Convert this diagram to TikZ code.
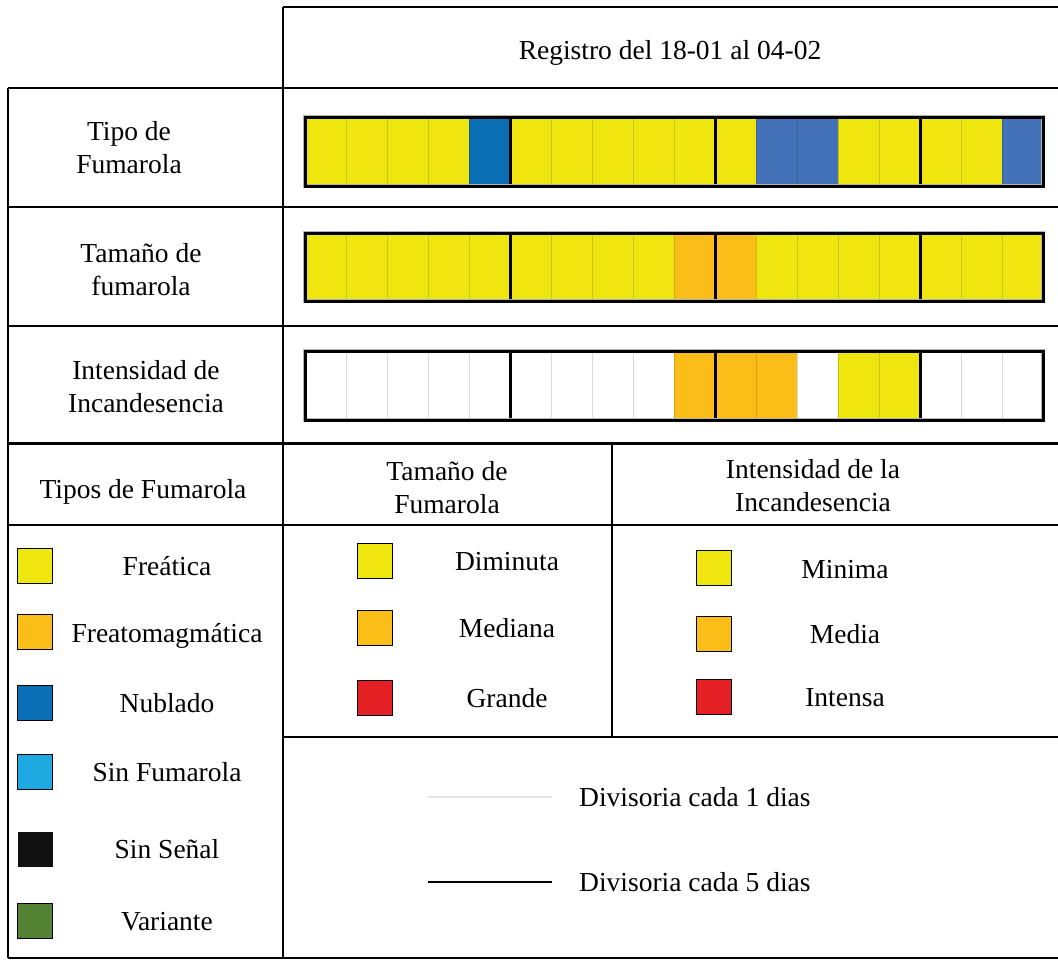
\documentclass[tikz,border=0pt]{standalone}
\usepackage{fontspec}
\setmainfont{Liberation Serif}
\definecolor{yel}{HTML}{F0E60F}
\definecolor{ora}{HTML}{FBBE18}
\definecolor{nub}{HTML}{0A6EB4}
\definecolor{blu}{HTML}{4472B8}
\definecolor{sinf}{HTML}{1EAAE1}
\definecolor{blk}{HTML}{111111}
\definecolor{vari}{HTML}{548235}
\definecolor{rojo}{HTML}{E52025}
\begin{document}
\begin{tikzpicture}[x=1pt,y=-1pt,
  tline/.style={line width=2pt},
  lbl/.style={font=\fontsize{27.5}{33}\selectfont, align=center, inner sep=0pt},
  swatch/.style={draw=black, line width=1.5pt, minimum size=35pt, inner sep=0pt},
  thin/.style={black, opacity=0.15, line width=1pt},
  five/.style={line width=3pt}]
\useasboundingbox (0,0) rectangle (1058,959);
\fill[white] (0,0) rectangle (1058,959);

% table grid
\draw[tline] (283,7) -- (1058,7);
\draw[tline] (8,88) -- (1058,88);
\draw[tline] (8,207) -- (1058,207);
\draw[tline] (8,326) -- (1058,326);
\draw[line width=3pt] (8,443) -- (1058,443);
\draw[tline] (8,525) -- (1058,525);
\draw[tline] (283,737) -- (1058,737);
\draw[tline] (8,958) -- (1058,958);
\draw[tline] (283,7) -- (283,958);
\draw[tline] (8,88) -- (8,958);
\draw[tline] (612,443) -- (612,737);

% header texts
\node[lbl] (reg) at (670,53) {Registro del 18-01 al 04-02};
\node[lbl] (tf) at (129,148) {Tipo de\\Fumarola};
\node[lbl] (tm) at (141,270) {Tamaño de\\fumarola};
\node[lbl] (ii) at (146,387) {Intensidad de\\Incandesencia};
\node[lbl, anchor=base] (tipos) at (143,498) {Tipos de Fumarola};
\node[lbl] (tamh) at (447,488) {Tamaño de\\Fumarola};
\node[lbl] (inth) at (813,486) {Intensidad de la\\Incandesencia};

% bar 1: Tipo de Fumarola
\foreach \c [count=\i from 0] in {yel,yel,yel,yel,nub,yel,yel,yel,yel,yel,yel,blu,blu,yel,yel,yel,yel,blu}
  \fill[\c] ({305+41*\i},117) rectangle ++(41,69);
\foreach \i in {1,2,3,4,6,7,8,9,11,12,13,14,16,17}
  \draw[thin] ({305+41*\i},117) -- ++(0,69);
\foreach \i in {5,10,15}
  \draw[five] ({305+41*\i},117) -- ++(0,69);
\draw[black!30, line width=4.5pt] (305,117) rectangle (1043,186);
\draw[line width=3pt] (305,117) rectangle (1043,186);

% bar 2: Tamano
\foreach \c [count=\i from 0] in {yel,yel,yel,yel,yel,yel,yel,yel,yel,ora,ora,yel,yel,yel,yel,yel,yel,yel}
  \fill[\c] ({305+41*\i},233) rectangle ++(41,68);
\foreach \i in {1,2,3,4,6,7,8,9,11,12,13,14,16,17}
  \draw[thin] ({305+41*\i},233) -- ++(0,68);
\foreach \i in {5,10,15}
  \draw[five] ({305+41*\i},233) -- ++(0,68);
\draw[black!30, line width=4.5pt] (305,233) rectangle (1043,301);
\draw[line width=3pt] (305,233) rectangle (1043,301);

% bar 3: Intensidad
\foreach \c [count=\i from 0] in {white,white,white,white,white,white,white,white,white,ora,ora,ora,white,yel,yel,white,white,white}
  \fill[\c] ({305+41*\i},351) rectangle ++(41,69);
\foreach \i in {1,2,3,4,6,7,8,9,11,12,13,14,16,17}
  \draw[thin] ({305+41*\i},351) -- ++(0,69);
\foreach \i in {5,10,15}
  \draw[five] ({305+41*\i},351) -- ++(0,69);
\draw[black!30, line width=4.5pt] (305,351) rectangle (1043,420);
\draw[line width=3pt] (305,351) rectangle (1043,420);

% legend: tipos
\node[swatch, fill=yel] (s1) at (35,566) {};
\node[lbl, anchor=base] (t1) at (167,575) {Freática};
\node[swatch, fill=ora] (s2) at (35,632) {};
\node[lbl, anchor=base] (t2) at (167,642) {Freatomagmática};
\node[swatch, fill=nub] (s3) at (35,703) {};
\node[lbl, anchor=base] (t3) at (167,712) {Nublado};
\node[swatch, fill=sinf] (s4) at (35,772) {};
\node[lbl, anchor=base] (t4) at (167,781) {Sin Fumarola};
\node[swatch, draw=none, fill=blk] (s5) at (35,849) {};
\node[lbl, anchor=base] (t5) at (167,858) {Sin Señal};
\node[swatch, fill=vari] (s6) at (35,921) {};
\node[lbl, anchor=base] (t6) at (167,930) {Variante};

% legend: tamano
\node[swatch, fill=yel] (m1) at (375,561) {};
\node[lbl, anchor=base] (u1) at (507,570) {Diminuta};
\node[swatch, fill=ora] (m2) at (375,628) {};
\node[lbl, anchor=base] (u2) at (507,637) {Mediana};
\node[swatch, fill=rojo] (m3) at (375,698) {};
\node[lbl, anchor=base] (u3) at (507,707) {Grande};

% legend: intensidad
\node[swatch, fill=yel] (n1) at (714,568) {};
\node[lbl, anchor=base] (v1) at (845,578) {Minima};
\node[swatch, fill=ora] (n2) at (714,634) {};
\node[lbl, anchor=base] (v2) at (845,643) {Media};
\node[swatch, fill=rojo] (n3) at (714,697) {};
\node[lbl, anchor=base] (v3) at (845,706) {Intensa};

% legend: divisorias
\coordinate (d1a) at (428,797);
\coordinate (d1b) at (552,797);
\coordinate (d5a) at (428,882);
\coordinate (d5b) at (552,882);
\draw[black!10, line width=2pt] (d1a) -- (d1b);
\draw[line width=2.5pt] (d5a) -- (d5b);
\node[lbl, anchor=base west] (w1) at (579,806) {Divisoria cada 1 dias};
\node[lbl, anchor=base west] (w5) at (579,891) {Divisoria cada 5 dias};
\end{tikzpicture}
\end{document}
